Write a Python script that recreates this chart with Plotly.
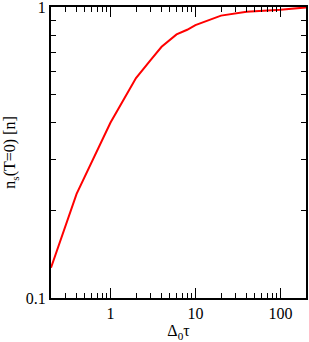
import plotly.graph_objects as go

tau = [0.2, 0.4, 1, 2, 3, 4, 6, 8, 10, 20, 40, 100, 200]
ns = [0.127, 0.228, 0.40, 0.57, 0.66, 0.73, 0.805, 0.835, 0.867, 0.934, 0.963, 0.978, 0.997]

x_major = [1, 10, 100]
x_major_text = ["1", "10", "100"]
x_minor = [0.3, 0.4, 0.5, 0.6, 0.7, 0.8, 0.9, 2, 3, 4, 5, 6, 7, 8, 9,
           20, 30, 40, 50, 60, 70, 80, 90]
y_major = [0.1, 1]
y_major_text = ["0.1", "1"]
y_minor = [0.2, 0.3, 0.4, 0.5, 0.6, 0.7, 0.8, 0.9]

font = dict(family="Liberation Serif, Times New Roman, serif", size=16, color="black")

fig = go.Figure()
fig.add_trace(go.Scatter(x=tau, y=ns, mode="lines",
                         line=dict(color="#ff0000", width=2), showlegend=False,
                         hoverinfo="skip"))

fig.update_layout(
    template="none",
    width=309, height=342,
    margin=dict(l=51, r=3, t=7, b=44),
    paper_bgcolor="white", plot_bgcolor="white",
    font=font,
)
common = dict(
    type="log", autorange=False,
    ticks="inside", ticklen=10, tickwidth=1, tickcolor="black",
    showline=True, linewidth=2, linecolor="black", mirror="allticks",
    showgrid=False, zeroline=False, automargin=False,
    ticklabeloverflow="allow", tickfont=font,
)
fig.update_xaxes(
    range=[-0.69897, 2.30103],
    tickmode="array", tickvals=x_major, ticktext=x_major_text,
    minor=dict(tickmode="array", tickvals=x_minor, ticks="inside",
               ticklen=5, tickwidth=1, tickcolor="black", showgrid=False),
    title=dict(text="Δ<sub>0</sub>τ", font=font, standoff=0),
    **common,
)
fig.update_yaxes(
    range=[-1, 0],
    tickmode="array", tickvals=y_major, ticktext=y_major_text,
    minor=dict(tickmode="array", tickvals=y_minor, ticks="inside",
               ticklen=5, tickwidth=1, tickcolor="black", showgrid=False),
    title=dict(text="n<sub>s</sub>(T=0) [n]", font=font, standoff=6),
    **common,
)

fig.write_html("out.html",
               config={"displayModeBar": False},
               post_script="document.body.style.margin='0px';"
                           "var gd=document.getElementById('{plot_id}');"
                           "Plotly.newPlot(gd, gd.data, gd.layout, {displayModeBar:false});")
